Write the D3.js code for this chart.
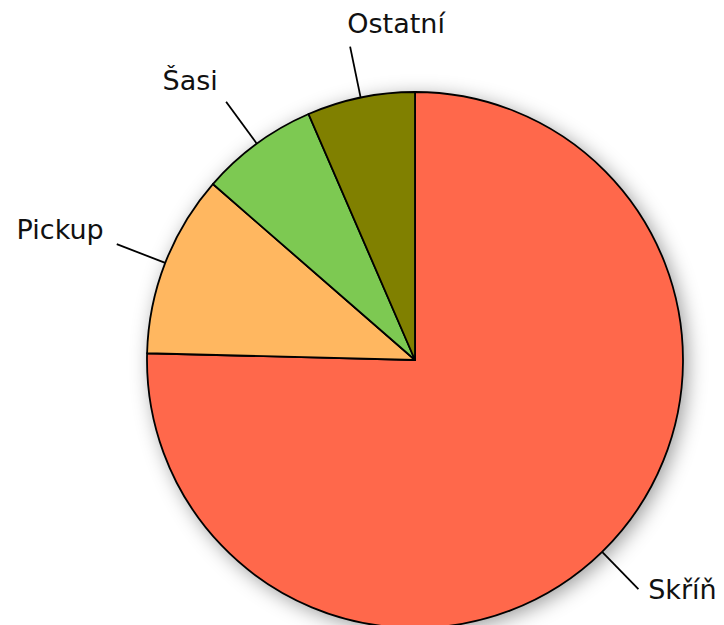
<!DOCTYPE html>
<html>
<head>
<meta charset="utf-8">
<script src="https://cdn.jsdelivr.net/npm/d3@7"></script>
<style>
  body { margin: 0; background: #fff; }
  text { font-family: "DejaVu Sans", Verdana, sans-serif; }
</style>
</head>
<body>
<div id="chart"></div>
<script>
// Chart size
const pieWidth = 724;
const pieHeight = 625;

// Data (shares, %)
const categories = ["Skříň", "Pickup", "Šasi", "Ostatní"];
const shares = [75.4, 11.0, 7.1, 6.5];
const colors = ["#ff684b", "#ffb760", "#7dc952", "#808000"];

const cx = 415, cy = 360;
const radius = 268;
const lineRadius = 320;

const pieData = categories.map((c, i) => ({ name: c, value: shares[i], color: colors[i] }));

const svg = d3.select("#chart")
  .append("svg")
  .attr("width", pieWidth)
  .attr("height", pieHeight);

// soft shadow around the pie
const filter = svg.append("defs").append("filter")
  .attr("id", "shadow")
  .attr("x", "-20%").attr("y", "-20%")
  .attr("width", "140%").attr("height", "140%");
filter.append("feDropShadow")
  .attr("dx", 4).attr("dy", 4)
  .attr("stdDeviation", 10)
  .attr("flood-color", "#000")
  .attr("flood-opacity", 0.4);

const g = svg.append("g")
  .attr("transform", `translate(${cx}, ${cy})`);

const pie = d3.pie().sort(null).value(d => d.value);
const arc = d3.arc().innerRadius(0).outerRadius(radius);
const arcs = pie(pieData);

// shadow layer
g.append("circle")
  .attr("r", radius)
  .attr("fill", "#fff")
  .attr("filter", "url(#shadow)");

g.selectAll("path.slice")
  .data(arcs)
  .enter()
  .append("path")
  .attr("class", "slice")
  .attr("d", arc)
  .attr("fill", d => d.data.color)
  .attr("stroke", "#000")
  .attr("stroke-width", 1.8)
  .attr("stroke-linejoin", "round");

// label connectors
const midAngle = d => (d.startAngle + d.endAngle) / 2;
const polar = (a, r) => [r * Math.sin(a), -r * Math.cos(a)];

g.selectAll("line.connector")
  .data(arcs)
  .enter()
  .append("line")
  .attr("class", "connector")
  .attr("x1", d => polar(midAngle(d), radius)[0])
  .attr("y1", d => polar(midAngle(d), radius)[1])
  .attr("x2", d => polar(midAngle(d), lineRadius)[0])
  .attr("y2", d => polar(midAngle(d), lineRadius)[1])
  .attr("stroke", "#000")
  .attr("stroke-width", 1.8);

// labels
g.selectAll("text.label")
  .data(arcs)
  .enter()
  .append("text")
  .attr("class", "label")
  .attr("x", d => polar(midAngle(d), lineRadius + 14)[0])
  .attr("y", d => polar(midAngle(d), lineRadius + 14)[1])
  .attr("text-anchor", d => Math.sin(midAngle(d)) < -0.3 ? "end" : "start")
  .style("font-size", "27px")
  .attr("fill", "#111")
  .text(d => d.data.name);
</script>
</body>
</html>
